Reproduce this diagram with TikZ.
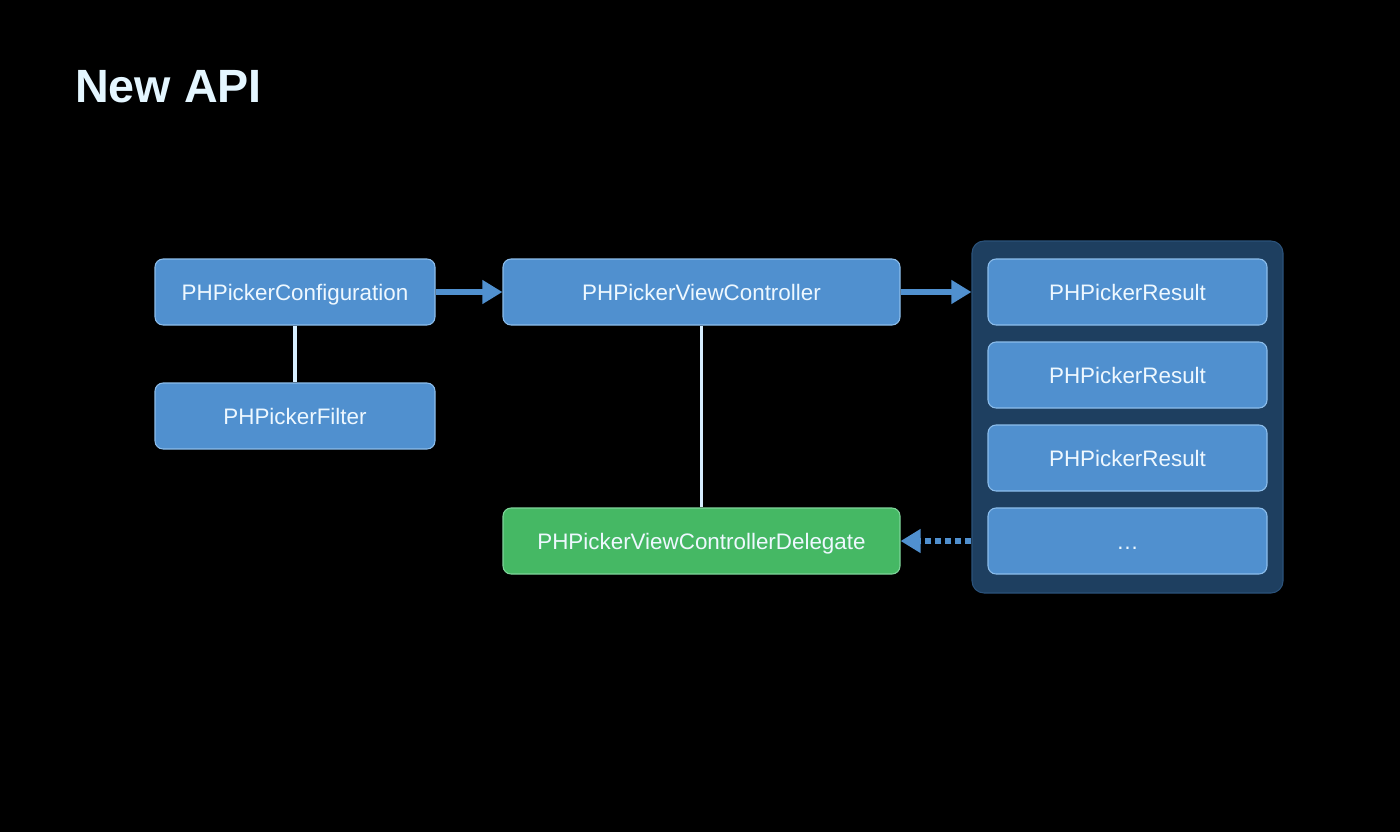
\documentclass[tikz,border=0pt]{standalone}
\usepackage{fontspec}
\setmainfont{Liberation Sans}
\usetikzlibrary{arrows.meta}
\definecolor{boxblue}{HTML}{5090CF}
\definecolor{boxedge}{HTML}{8CBDEB}
\definecolor{boxgreen}{HTML}{45B864}
\definecolor{greenedge}{HTML}{7FD49A}
\definecolor{contblue}{HTML}{1E3F60}
\definecolor{contedge}{HTML}{2B527A}
\definecolor{txt}{HTML}{EEF8FF}
\definecolor{titlecol}{HTML}{E4F6FF}
\definecolor{linkcol}{HTML}{D6EEFF}
\tikzset{
  bluebox/.style={draw=boxedge, line width=0.8pt, fill=boxblue, rounded corners=6pt,
    minimum height=49.5pt, text=txt, font=\fontsize{16.8pt}{20pt}\selectfont, inner sep=0pt,
    text height=12.5pt, text depth=0pt},
  greenbox/.style={bluebox, fill=boxgreen, draw=greenedge},
  flowarrow/.style={draw=boxblue, line width=3.8pt, -{Triangle[length=15pt,width=17pt]}},
  dotarrow/.style={flowarrow, dash pattern=on 4.5pt off 3pt},
  linkline/.style={draw=linkcol, line width=2.3pt}
}
\begin{document}
\begin{tikzpicture}[x=0.75pt,y=-0.75pt]
\useasboundingbox[fill=black] (0,0) rectangle (1400,832);
\node[anchor=base west, text=titlecol, font=\bfseries\fontsize{35pt}{40pt}\selectfont, inner sep=0pt] (title) at (75,102) {New API};

\node[fill=contblue, draw=contedge, line width=0.8pt, rounded corners=9pt, minimum width=233.25pt, minimum height=264pt, inner sep=0pt] (cont) at (1127.5,417) {};

\node[bluebox, minimum width=210pt] (cfg) at (295,292) {PHPickerConfiguration};
\node[bluebox, minimum width=210pt] (flt) at (295,416) {PHPickerFilter};
\node[bluebox, minimum width=297.75pt] (vc) at (701.5,292) {PHPickerViewController};
\node[greenbox, minimum width=297.75pt] (del) at (701.5,541) {PHPickerViewControllerDelegate};

\node[bluebox, minimum width=209.25pt] (r1) at (1127.5,292) {PHPickerResult};
\node[bluebox, minimum width=209.25pt] (r2) at (1127.5,375) {PHPickerResult};
\node[bluebox, minimum width=209.25pt] (r3) at (1127.5,458) {PHPickerResult};
\node[bluebox, minimum width=209.25pt] (r4) at (1127.5,541) {\ldots};

\draw[linkline] (cfg.south) -- (flt.north);
\draw[linkline] (vc.south) -- (del.north);
\draw[flowarrow] (cfg.east) -- (vc.west);
\draw[flowarrow] (vc.east) -- (vc.east -| cont.west);
\draw[dotarrow] (del.east -| cont.west) -- (del.east);
\end{tikzpicture}
\end{document}
